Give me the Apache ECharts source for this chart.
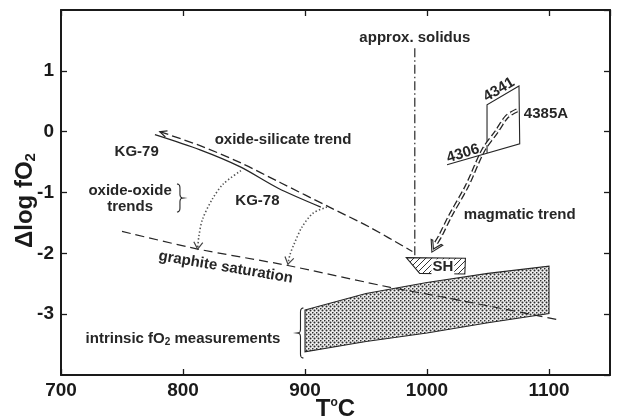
<!DOCTYPE html>
<html>
<head>
<meta charset="utf-8">
<script src="https://cdn.jsdelivr.net/npm/echarts@6/dist/echarts.min.js"></script>
<style>
  html, body { margin: 0; padding: 0; background: #fff; }
  #chart { width: 617px; height: 419px; }
</style>
</head>
<body>
<div id="chart"></div>
<script>
// ---- axis ticks -------------------------------------------------------
const xTicks = [700, 800, 900, 1000, 1100];      // temperature, °C
const yTicks = [-3, -2, -1, 0, 1];               // Δlog fO2

// ---- curves: [T (°C), Δlog fO2] --------------------------------------
// KG-79 → KG-78 sample trajectory (solid)
const kgCurve = [[777, -0.05], [814, -0.30], [847, -0.58], [878, -0.93], [913, -1.24]];
// oxide-silicate trend (dashed; arrow at the first point)
const oxideSilicate = [[781, 0.0], [814, -0.23], [847, -0.51], [880, -0.84], [920, -1.24], [953, -1.57], [988, -1.97]];
// oxide-oxide trends (dotted; arrows at the last point)
const oxideOxideA = [[847.5, -0.64], [833, -0.86], [824, -1.11], [816, -1.44], [813, -1.72], [812, -1.93]];
const oxideOxideB = [[918, -1.24], [906.6, -1.34], [897.5, -1.57], [891, -1.85], [887.7, -2.02], [886, -2.18]];
// graphite saturation (dashed)
const graphiteSat = [[750, -1.64], [812, -1.93], [886, -2.20], [970, -2.56], [1011, -2.71], [1107, -3.09]];
// approximate solidus (dash-dot)
const solidus = [[990, 1.37], [990, -2.07]];
// magmatic trend (double dashed; arrow at the last point)
const magmatic = [[1073.8, 0.35], [1065.6, 0.25], [1057, 0.0], [1046, -0.31], [1032.8, -0.89],
                  [1018.9, -1.39], [1010.7, -1.72], [1006.5, -1.86], [1004, -1.98]];

// ---- regions ------------------------------------------------------------
// intrinsic fO2 measurements band
const bandTop    = [[900, -2.93], [950, -2.66], [1000, -2.48], [1050, -2.33], [1100, -2.21]];
const bandBottom = [[900, -3.62], [950, -3.45], [1000, -3.31], [1050, -3.14], [1100, -2.99]];
// SH field
const shField = [[983, -2.07], [1031.5, -2.08], [1031, -2.34], [994, -2.33]];
// 4306 / 4341 / 4385A bracket box
const sampleBox = [[1016.4, -0.545], [1076, -0.2], [1075.4, 0.75], [1049.2, 0.44], [1049.2, -0.355]];

// ---- annotations -----------------------------------------------------------
const labels = [
  { text: 'oxide-silicate trend', at: [882, -0.13] },
  { text: 'KG-79', at: [762, -0.33] },
  { text: 'KG-78', at: [861, -1.14] },
  { text: 'oxide-oxide\ntrends', at: [756.6, -1.11] },
  { text: 'graphite saturation', at: [835, -2.23], rotate: -9.6 },
  { text: 'intrinsic fO{s|2} measurements', at: [800, -3.40] },
  { text: 'approx. solidus', at: [990, 1.54] },
  { text: 'SH', at: [1013, -2.23], boxed: true },
  { text: 'magmatic trend', at: [1076, -1.37] },
  { text: '4341', at: [1059, 0.69], rotate: 31 },
  { text: '4385A', at: [1097.5, 0.30] },
  { text: '4306', at: [1029.5, -0.36], rotate: 17 }
];
const braces = [
  { at: [797.5, -1.09], h: 28, dir: 1 },   // "}" next to oxide-oxide trends
  { at: [896.3, -3.31], h: 50, dir: -1 }   // "{" in front of the measurement band
];

const FONT = "'Liberation Sans', Arial, Helvetica, sans-serif";
const INK = '#262626';

// stipple fill for the measurement band
function stipple() {
  const c = document.createElement('canvas');
  c.width = 4; c.height = 4;
  const g = c.getContext('2d');
  g.fillStyle = '#eeeeee'; g.fillRect(0, 0, 4, 4);
  g.fillStyle = '#2e2e2e';
  [[0.5, 0.5], [2.5, 2.5]].forEach(([x, y]) => {
    g.beginPath(); g.arc(x, y, 1.0, 0, Math.PI * 2); g.fill();
  });
  return c;
}
// diagonal hatching for the SH field
function hatch() {
  const c = document.createElement('canvas');
  c.width = 6; c.height = 6;
  const g = c.getContext('2d');
  g.fillStyle = '#fff'; g.fillRect(0, 0, 6, 6);
  g.strokeStyle = '#333'; g.lineWidth = 1;
  g.beginPath();
  g.moveTo(0, 6); g.lineTo(6, 0);
  g.moveTo(-3, 3); g.lineTo(3, -3);
  g.moveTo(3, 9); g.lineTo(9, 3);
  g.stroke();
  return c;
}

function lineSeries(data, style, z, smooth) {
  return {
    type: 'line', data, symbol: 'none', silent: true, animation: false,
    smooth: smooth === undefined ? 0.3 : smooth, z: z || 3,
    lineStyle: Object.assign({ color: INK, width: 1.2 }, style)
  };
}

// one shape built from a whole point list
function shapeSeries(points, kind, style, z) {
  return {
    type: 'custom', coordinateSystem: 'cartesian2d', data: points, silent: true,
    animation: false, z: z || 2,
    renderItem: (params, api) => params.dataIndex ? null : {
      type: kind, shape: { points: points.map(p => api.coord(p)) }, style
    }
  };
}

// arrowheads: [tipT, tipY, fromT, fromY, kind]
const arrows = [
  [...oxideSilicate[0], ...oxideSilicate[1], 0],
  [...oxideOxideA[oxideOxideA.length - 1], ...oxideOxideA[oxideOxideA.length - 2], 1],
  [...oxideOxideB[oxideOxideB.length - 1], ...oxideOxideB[oxideOxideB.length - 2], 1],
  [...magmatic[magmatic.length - 1], ...magmatic[magmatic.length - 3], 2]
];
function renderArrow(params, api) {
  const p = api.coord([api.value(0), api.value(1)]);
  const q = api.coord([api.value(2), api.value(3)]);
  const kind = api.value(4);
  let dx = p[0] - q[0], dy = p[1] - q[1];
  const len = Math.hypot(dx, dy) || 1; dx /= len; dy /= len;
  const nx = -dy, ny = dx;
  const L = [7, 7, 11][kind], W = [3.2, 4.5, 6.5][kind];
  const w1 = [p[0] - dx * L + nx * W, p[1] - dy * L + ny * W];
  const w2 = [p[0] - dx * L - nx * W, p[1] - dy * L - ny * W];
  if (kind === 2) {
    const t = 3.4;
    const i1 = [w1[0] - nx * 1.8, w1[1] - ny * 1.8];
    const i2 = [w2[0] + nx * 1.8, w2[1] + ny * 1.8];
    const inner = [p[0] - dx * t, p[1] - dy * t];
    return { type: 'polygon', shape: { points: [w1, p, w2, i2, inner, i1] },
             style: { fill: '#fff', stroke: INK, lineWidth: 1.1 } };
  }
  return { type: 'polyline', shape: { points: [w1, p, w2] },
           style: { fill: null, stroke: kind === 1 ? '#444' : INK, lineWidth: 1.2 } };
}

function quad(a, c, b, n, out) {
  for (let i = 1; i <= n; i++) {
    const t = i / n, u = 1 - t;
    out.push([u * u * a[0] + 2 * u * t * c[0] + t * t * b[0], u * u * a[1] + 2 * u * t * c[1] + t * t * b[1]]);
  }
}
function renderBrace(params, api) {
  const b = braces[params.dataIndex];
  const c = api.coord(b.at);
  const w = 3, r = 4, h = b.h, s = b.dir;
  const cx = c[0], cy = c[1], top = cy - h / 2, bot = cy + h / 2;
  const pts = [[cx - s * w, top]];
  quad(pts[0], [cx, top], [cx, top + r], 6, pts);
  pts.push([cx, cy - r]);
  quad([cx, cy - r], [cx, cy], [cx + s * w, cy], 6, pts);
  quad([cx + s * w, cy], [cx, cy], [cx, cy + r], 6, pts);
  pts.push([cx, bot - r]);
  quad([cx, bot - r], [cx, bot], [cx - s * w, bot], 6, pts);
  return { type: 'polyline', shape: { points: pts }, style: { fill: null, stroke: INK, lineWidth: 1.1 } };
}

function renderLabel(params, api) {
  const l = labels[params.dataIndex];
  const c = api.coord(l.at);
  return {
    type: 'text', x: c[0], y: c[1],
    rotation: (l.rotate || 0) * Math.PI / 180,
    style: {
      text: l.text, align: 'center', verticalAlign: 'middle',
      fontFamily: FONT, fontWeight: 'bold', fontSize: 15, lineHeight: 16, fill: INK,
      backgroundColor: l.boxed ? '#fff' : null, padding: l.boxed ? [0, 1] : 0,
      rich: {
        s: { fontFamily: FONT, fontWeight: 'bold', fontSize: 10, fill: INK, padding: [7, 0, 0, 0] }
      }
    }
  };
}

const bandPolygon = bandTop.concat(bandBottom.slice().reverse());

const chart = echarts.init(document.getElementById('chart'));
const axisCommon = {
  type: 'value', splitLine: { show: false },
  axisLine: { onZero: false, lineStyle: { color: '#1a1a1a', width: 2 } },
  axisTick: { inside: true, length: 6, lineStyle: { color: '#1a1a1a', width: 1.3 } }
};
chart.setOption({
  animation: false,
  backgroundColor: '#fff',
  grid: { left: 61, right: 7, top: 10, bottom: 44, outerBoundsMode: 'none', containLabel: false },
  xAxis: [
    Object.assign({}, axisCommon, {
      min: 700, max: 1150, interval: 100, position: 'bottom',
      axisLabel: {
        margin: 6, color: '#1a1a1a', fontFamily: FONT, fontWeight: 'bold', fontSize: 19,
        showMaxLabel: false, formatter: v => xTicks.includes(v) ? String(v) : ''
      },
      name: '{a|T}{o|o}{a|C}', nameLocation: 'middle', nameGap: 21, nameMoveOverlap: false,
      nameTextStyle: {
        rich: {
          a: { fontFamily: FONT, fontWeight: 'bold', fontSize: 24, color: '#1a1a1a', lineHeight: 26 },
          o: { fontFamily: FONT, fontWeight: 'bold', fontSize: 12, color: '#1a1a1a', lineHeight: 26, padding: [0, 0, 12, 0] }
        }
      }
    }),
    Object.assign({}, axisCommon, {
      min: 700, max: 1150, interval: 100, position: 'top', axisLabel: { show: false }
    })
  ],
  yAxis: [
    Object.assign({}, axisCommon, {
      min: -4, max: 2, interval: 1, position: 'left',
      axisLabel: {
        margin: 7, color: '#1a1a1a', fontFamily: FONT, fontWeight: 'bold', fontSize: 19,
        showMinLabel: false, showMaxLabel: false,
        formatter: v => yTicks.includes(v) ? String(v) : ''
      },
      name: '{a|Δlog fO}{s|2}', nameLocation: 'middle', nameGap: 23, nameRotate: 90, nameMoveOverlap: false,
      nameTextStyle: {
        padding: [0, 16, 0, 0],
        rich: {
          a: { fontFamily: FONT, fontWeight: 'bold', fontSize: 24, color: '#1a1a1a', lineHeight: 26 },
          s: { fontFamily: FONT, fontWeight: 'bold', fontSize: 15, color: '#1a1a1a', lineHeight: 26, padding: [11, 0, 0, 0] }
        }
      }
    }),
    Object.assign({}, axisCommon, {
      min: -4, max: 2, interval: 1, position: 'right', axisLabel: { show: false }
    })
  ],
  series: [
    // measurement band
    shapeSeries(bandPolygon, 'polygon',
      { fill: { image: stipple(), repeat: 'repeat' }, stroke: INK, lineWidth: 1.1 }, 1),
    // SH field
    shapeSeries(shField, 'polygon',
      { fill: { image: hatch(), repeat: 'repeat' }, stroke: INK, lineWidth: 1.1 }, 2),
    // sample box
    shapeSeries(sampleBox, 'polyline', { fill: null, stroke: INK, lineWidth: 1.1 }, 2),
    // curves
    lineSeries(graphiteSat, { type: [9, 5], width: 1.2 }, 3, 0.2),
    lineSeries(kgCurve, { width: 1.3 }, 3),
    lineSeries(oxideSilicate, { type: [9, 4], width: 1.3 }, 3),
    lineSeries(oxideOxideA, { type: [1.4, 2.2], width: 1.6, color: '#555' }, 3),
    lineSeries(oxideOxideB, { type: [1.4, 2.2], width: 1.6, color: '#555' }, 3),
    lineSeries(solidus, { type: [9, 3, 1.5, 3], width: 1.2 }, 3, 0),
    lineSeries(magmatic.slice(0, magmatic.length - 1), { type: [7, 3], width: 4.4 }, 4),
    lineSeries(magmatic.slice(0, magmatic.length - 1), { type: [7, 3], width: 1.8, color: '#fff' }, 5),
    // arrowheads
    { type: 'custom', coordinateSystem: 'cartesian2d', data: arrows, silent: true, animation: false,
      z: 6, encode: { x: 0, y: 1 }, renderItem: renderArrow },
    // braces
    { type: 'custom', coordinateSystem: 'cartesian2d', data: braces.map(b => b.at), silent: true,
      animation: false, z: 6, renderItem: renderBrace },
    // text annotations
    { type: 'custom', coordinateSystem: 'cartesian2d', data: labels.map(l => l.at), silent: true,
      animation: false, z: 7, renderItem: renderLabel }
  ]
});
</script>
</body>
</html>
